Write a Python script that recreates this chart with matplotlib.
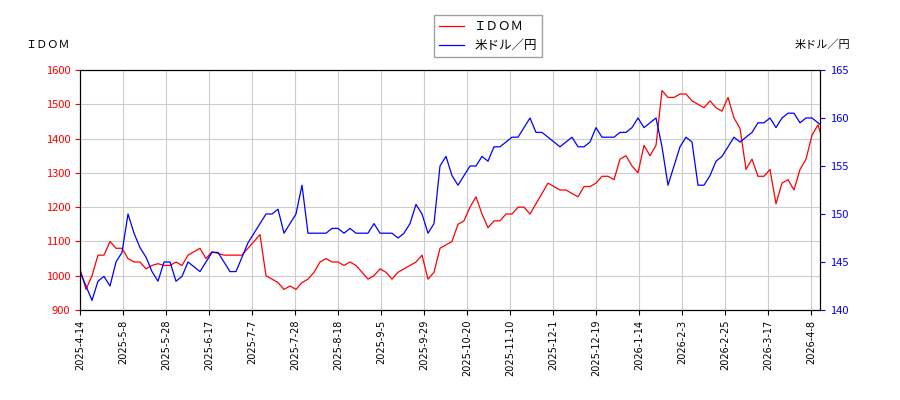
import matplotlib
matplotlib.use("Agg")
import matplotlib.pyplot as plt
import numpy as np

plt.rcParams['font.family'] = ['Noto Sans CJK JP', 'DejaVu Sans']

tick_labels = ["2025-4-14","2025-5-8","2025-5-28","2025-6-17","2025-7-7","2025-7-28","2025-8-18",
               "2025-9-5","2025-9-29","2025-10-20","2025-11-10","2025-12-1","2025-12-19","2026-1-14",
               "2026-2-3","2026-2-25","2026-3-17","2026-4-8"]

idom = [1020,960,1000,1060,1060,1100,1080,1080,1050,1040,1040,1020,1030,1035,1030,1030,1040,1030,1060,1070,
        1080,1050,1070,1065,1060,1060,1060,1060,1080,1100,1120,1000,990,980,960,970,960,980,990,1010,
        1040,1050,1040,1040,1030,1040,1030,1010,990,1000,1020,1010,990,1010,1020,1030,1040,1060,990,1010,
        1080,1090,1100,1150,1160,1200,1230,1180,1140,1160,1160,1180,1180,1200,1200,1180,1210,1240,1270,1260,
        1250,1250,1240,1230,1260,1260,1270,1290,1290,1280,1340,1350,1320,1300,1380,1350,1380,1540,1520,1520,
        1530,1530,1510,1500,1490,1510,1490,1480,1520,1460,1430,1310,1340,1290,1290,1310,1210,1270,1280,1250,
        1310,1340,1410,1440,1380]
usdjpy = [144,142.5,141,143,143.5,142.5,145,146,150,148,146.5,145.5,144,143,145,145,143,143.5,145,144.5,
          144,145,146,146,145,144,144,145.5,147,148,149,150,150,150.5,148,149,150,153,148,148,
          148,148,148.5,148.5,148,148.5,148,148,148,149,148,148,148,147.5,148,149,151,150,148,149,
          155,156,154,153,154,155,155,156,155.5,157,157,157.5,158,158,159,160,158.5,158.5,158,157.5,
          157,157.5,158,157,157,157.5,159,158,158,158,158.5,158.5,159,160,159,159.5,160,157,153,155,
          157,158,157.5,153,153,154,155.5,156,157,158,157.5,158,158.5,159.5,159.5,160,159,160,160.5,160.5,
          159.5,160,160,159.5,159]

fig = plt.figure(figsize=(9, 4), dpi=100)
ax = fig.add_axes([80/900, 90/400, 740/900, 240/400])
ax2 = ax.twinx()
x = np.arange(len(idom))
l1, = ax.plot(x, idom, color='red', lw=0.9, label='ＩＤＯＭ')
l2, = ax2.plot(x, usdjpy, color='blue', lw=0.9, label='米ドル／円')
step = 43/6
ax.set_xlim(0, 740/6)
ax.set_xticks([i*step for i in range(len(tick_labels))])
ax.set_xticklabels(tick_labels, rotation=90, fontsize=7, family='DejaVu Sans')
ax.set_ylim(900, 1600)
ax.set_yticks(range(900, 1601, 100))
ax2.set_ylim(140, 165)
ax2.set_yticks(range(140, 166, 5))
ax.tick_params(axis='y', colors='red', labelsize=8)
ax2.tick_params(axis='y', colors='blue', labelsize=8)
for t in ax.get_yticklabels(): t.set_color('red')
ax.grid(True, color='#cccccc', lw=0.8)
ax.set_axisbelow(True)
fig.text(25/900, 1-45/400, 'ＩＤＯＭ', fontsize=8, va='center')
fig.text(850/900, 1-45/400, '米ドル／円', fontsize=8, va='center', ha='right')
fig.legend(handles=[l1, l2], loc='upper center', bbox_to_anchor=(488/900, 1-15/400),
           fontsize=9, frameon=True, fancybox=False, edgecolor='#888888', borderaxespad=0)
fig.savefig('out.png', dpi=100)
